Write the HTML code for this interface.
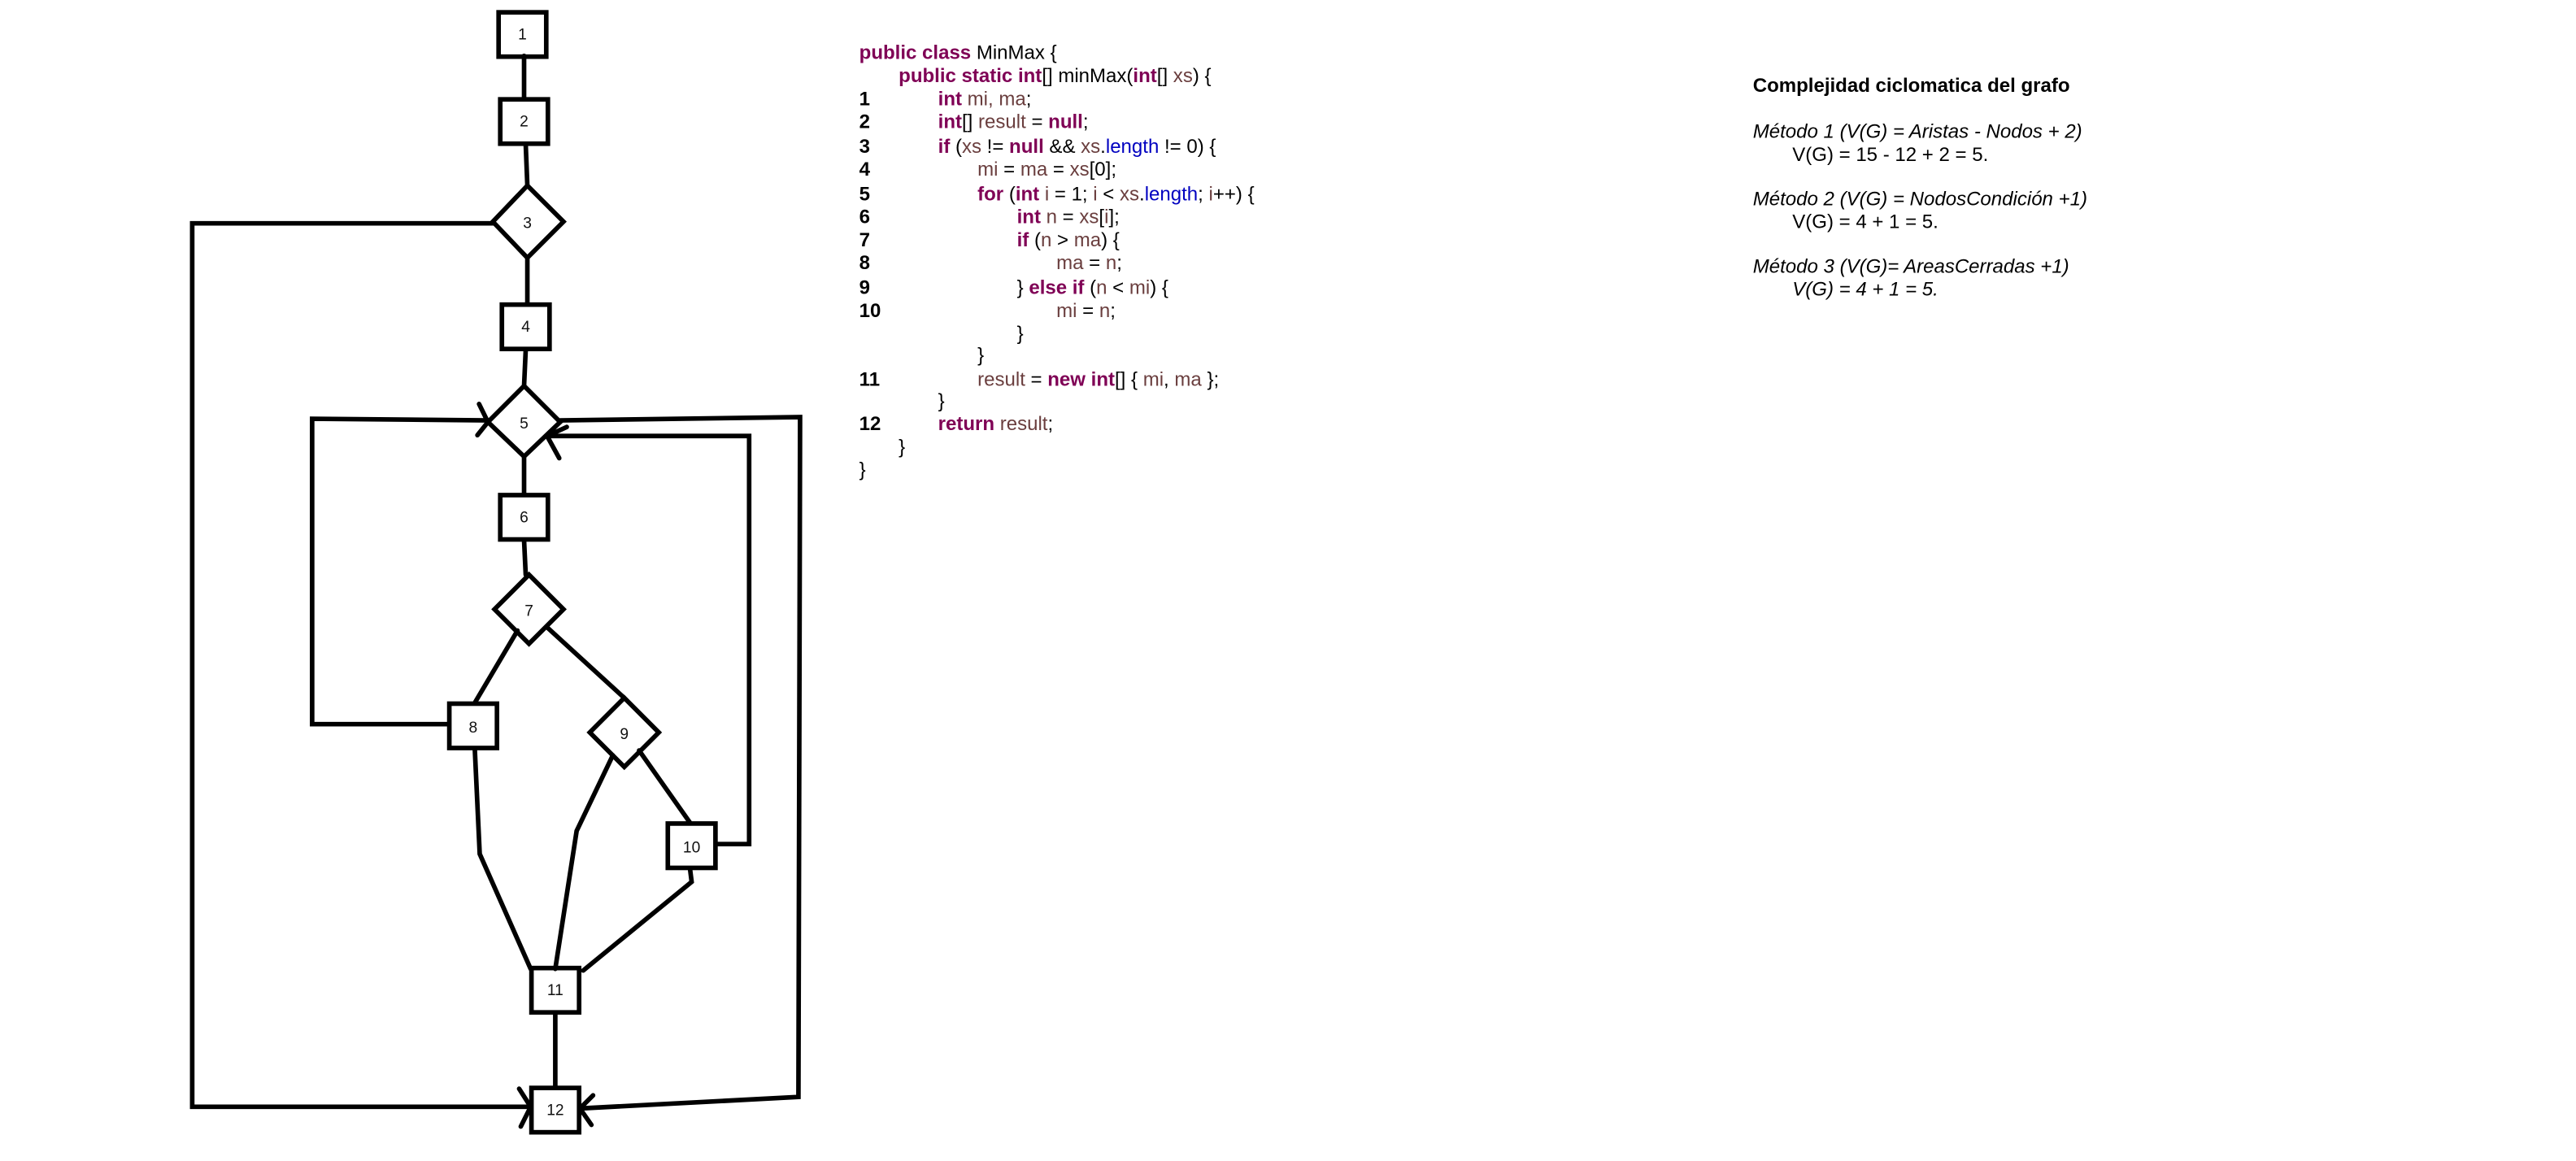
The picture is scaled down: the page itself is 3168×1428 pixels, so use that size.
<!DOCTYPE html>
<html><head><meta charset="utf-8"><style>
html,body{margin:0;padding:0;background:#fff;}
svg{display:block;}
.n{font-family:"Liberation Sans",sans-serif;font-size:9.5px;fill:#111;text-anchor:middle;}
.c{font-family:"Liberation Sans",sans-serif;font-size:11.9px;fill:#000;}
.k{fill:#7f0055;font-weight:bold;}
.v{fill:#6a3e3e;}
.b{fill:#0000c0;}
.ln{font-weight:bold;}
.r{font-family:"Liberation Sans",sans-serif;font-size:11.9px;fill:#000;}
</style></head><body>
<svg width="3168" height="1428" viewBox="0 0 1568 707" preserveAspectRatio="none" xmlns="http://www.w3.org/2000/svg">
<g fill="none" stroke="#000" stroke-width="2.8" stroke-linecap="round" stroke-linejoin="miter">
<rect x="303.5" y="7.5" width="29" height="27" fill="#fff"/>
<rect x="304.5" y="60.5" width="29" height="27" fill="#fff"/>
<polygon points="321,113 343,135 321,157 300,135" fill="#fff"/>
<rect x="305.5" y="185.5" width="29" height="27" fill="#fff"/>
<polygon points="319,235 341,257 319,278 297,257" fill="#fff"/>
<rect x="304.5" y="301.5" width="29" height="27" fill="#fff"/>
<polygon points="322,350 343,371 322,392 301,371" fill="#fff"/>
<rect x="273.5" y="428.5" width="29" height="27" fill="#fff"/>
<polygon points="380,425 401,446 380,467 359,446" fill="#fff"/>
<rect x="406.5" y="501.5" width="29" height="27" fill="#fff"/>
<rect x="323.5" y="589.5" width="29" height="27" fill="#fff"/>
<rect x="323.5" y="662.5" width="29" height="27" fill="#fff"/>
<line x1="319" y1="34" x2="319" y2="60"/>
<line x1="320" y1="88" x2="321" y2="113"/>
<line x1="321" y1="157" x2="321" y2="185"/>
<line x1="320" y1="213" x2="319" y2="235"/>
<line x1="319" y1="278" x2="319" y2="301"/>
<line x1="319" y1="329" x2="320" y2="350"/>
<line x1="315" y1="384" x2="289" y2="428"/>
<line x1="333" y1="382" x2="380" y2="425"/>
<polyline points="289,456 292,520 323,590"/>
<polyline points="373,460 351,506 338,590"/>
<line x1="389" y1="457" x2="420" y2="501"/>
<polyline points="420,529 421,537 355,591"/>
<line x1="338" y1="617" x2="338" y2="662"/>
<polyline points="300,136 117,136 117,674 323,674"/>
<polyline points="316,663 323,674 317,686"/>
<polyline points="273,441 190,441 190,255 297,256"/>
<polyline points="291.6,246 297,257 290.6,265"/>
<polyline points="341,256 487,254 486,668 353,675"/>
<polyline points="361,667 353,675 360,685"/>
<polyline points="436,514 456,514 456,265.5 333,265.5"/>
<polyline points="345,260 333,265.5 340.4,279"/>
</g>
<g class="n">
<text x="318" y="24">1</text>
<text x="319" y="77">2</text>
<text x="321" y="139">3</text>
<text x="320" y="202">4</text>
<text x="319" y="261">5</text>
<text x="319" y="318">6</text>
<text x="322" y="375">7</text>
<text x="288" y="446">8</text>
<text x="380" y="450">9</text>
<text x="421" y="519">10</text>
<text x="338" y="606">11</text>
<text x="338" y="679">12</text>
</g>
<g class="c">
<text x="523" y="36"><tspan class="k">public class</tspan> MinMax {</text>
<text x="547" y="50"><tspan class="k">public static int</tspan>[] minMax(<tspan class="k">int</tspan>[] <tspan class="v">xs</tspan>) {</text>
<text x="523" y="64" class="ln">1</text><text x="571" y="64"><tspan class="k">int</tspan><tspan class="v"> mi, ma</tspan>;</text>
<text x="523" y="78" class="ln">2</text><text x="571" y="78"><tspan class="k">int</tspan>[] <tspan class="v">result</tspan> = <tspan class="k">null</tspan>;</text>
<text x="523" y="93" class="ln">3</text><text x="571" y="93"><tspan class="k">if</tspan> (<tspan class="v">xs</tspan> != <tspan class="k">null</tspan> &amp;&amp; <tspan class="v">xs</tspan>.<tspan class="b">length</tspan> != 0) {</text>
<text x="523" y="107" class="ln">4</text><text x="595" y="107"><tspan class="v">mi</tspan> = <tspan class="v">ma</tspan> = <tspan class="v">xs</tspan>[0];</text>
<text x="523" y="122" class="ln">5</text><text x="595" y="122"><tspan class="k">for</tspan> (<tspan class="k">int</tspan><tspan class="v"> i</tspan> = 1; <tspan class="v">i</tspan> &lt; <tspan class="v">xs</tspan>.<tspan class="b">length</tspan>; <tspan class="v">i</tspan>++) {</text>
<text x="523" y="136" class="ln">6</text><text x="619" y="136"><tspan class="k">int</tspan><tspan class="v"> n</tspan> = <tspan class="v">xs</tspan>[<tspan class="v">i</tspan>];</text>
<text x="523" y="150" class="ln">7</text><text x="619" y="150"><tspan class="k">if</tspan> (<tspan class="v">n</tspan> &gt; <tspan class="v">ma</tspan>) {</text>
<text x="523" y="164" class="ln">8</text><text x="643" y="164"><tspan class="v">ma</tspan> = <tspan class="v">n</tspan>;</text>
<text x="523" y="179" class="ln">9</text><text x="619" y="179">} <tspan class="k">else if</tspan> (<tspan class="v">n</tspan> &lt; <tspan class="v">mi</tspan>) {</text>
<text x="523" y="193" class="ln">10</text><text x="643" y="193"><tspan class="v">mi</tspan> = <tspan class="v">n</tspan>;</text>
<text x="619" y="207">}</text>
<text x="595" y="220">}</text>
<text x="523" y="235" class="ln">11</text><text x="595" y="235"><tspan class="v">result</tspan> = <tspan class="k">new int</tspan>[] { <tspan class="v">mi</tspan>, <tspan class="v">ma</tspan> };</text>
<text x="571" y="248">}</text>
<text x="523" y="262" class="ln">12</text><text x="571" y="262"><tspan class="k">return</tspan><tspan class="v"> result</tspan>;</text>
<text x="547" y="276">}</text>
<text x="523" y="290">}</text>
</g>
<g class="r">
<text x="1067" y="56" font-weight="bold">Complejidad ciclomatica del grafo</text>
<text x="1067" y="84" font-style="italic">Método 1 (V(G) = Aristas - Nodos + 2)</text>
<text x="1091" y="98">V(G) = 15 - 12 + 2 = 5.</text>
<text x="1067" y="125" font-style="italic">Método 2 (V(G) = NodosCondición +1)</text>
<text x="1091" y="139">V(G) = 4 + 1 = 5.</text>
<text x="1067" y="166" font-style="italic">Método 3 (V(G)= AreasCerradas +1)</text>
<text x="1091" y="180" font-style="italic">V(G) = 4 + 1 = 5.</text>
</g>
</svg>
</body></html>
